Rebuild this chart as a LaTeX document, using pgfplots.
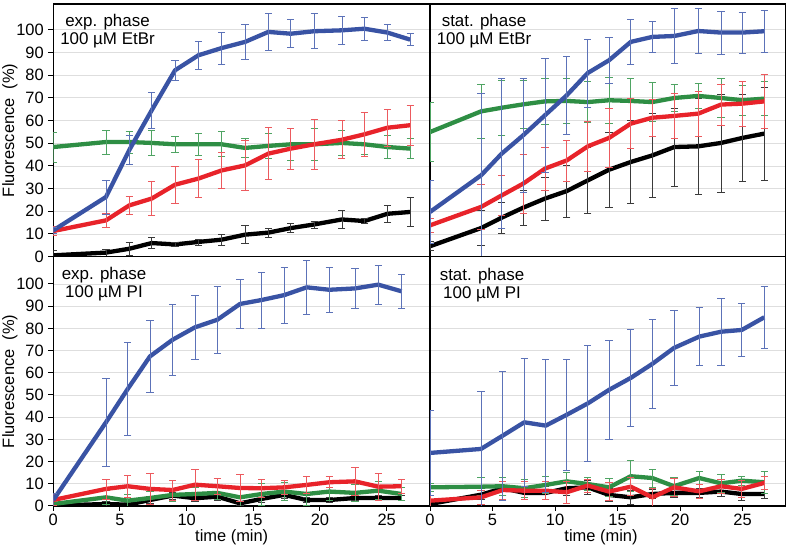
\documentclass[border=0pt]{standalone}
\usepackage{fontspec}
\setmainfont{Liberation Sans}
\usepackage{pgfplots}
\usepackage{pgfplotstable}
\pgfplotsset{compat=1.18}

\definecolor{cblue}{HTML}{3953A4}
\definecolor{cred}{HTML}{E8232A}
\definecolor{cgreen}{HTML}{2E8E44}
\definecolor{eblue}{HTML}{5C72B8}
\definecolor{ered}{HTML}{EC5A5E}
\definecolor{egreen}{HTML}{4FA463}
\definecolor{eblack}{HTML}{3A3A3A}

% t, blue, err, red, err, green, err, black, err
\pgfplotstableread{
t     b     be   r     re   g     ge   k     ke
0     11.6  1.5  11.3  2.0  48.3  6.6  0.6   2.0
3.95  26.3  7.5  16.0  3.0  50.5  5.3  1.8   1.5
5.70  47.0  6.5  22.6  4.0  50.5  4.8  3.5   3.0
7.38  64.5  8.0  25.6  7.5  50.1  5.6  6.0   2.5
9.13  82.1  4.4  31.7  8.0  49.5  3.7  5.4   1.0
10.88 88.7  6.0  34.4  8.4  49.5  5.0  6.5   1.3
12.63 91.9  7.0  38.0  8.0  49.5  5.5  7.5   2.5
14.38 94.6  7.8  40.2  11.0 47.9  4.0  9.7   4.0
16.13 99.0  8.3  45.4  11.4 48.8  5.5  10.6  2.0
17.81 98.2  6.2  47.6  9.0  49.5  7.0  12.6  2.0
19.56 99.3  7.7  49.5  11.0 49.5  7.0  14.2  1.5
21.64 99.7  6.0  51.5  8.4  50.1  5.6  16.4  4.0
23.33 100.4 4.9  53.9  9.5  49.5  4.5  15.7  1.0
25.06 98.7  3.5  56.8  8.3  48.3  5.0  18.9  3.7
26.76 95.6  2.7  57.9  8.7  47.6  4.4  19.7  6.4
}\TL

\pgfplotstableread{
t     b     be   r     re   g     ge   k     ke
0     19.7  14   13.8  3.0  54.9  13   4.6   2.0
4.08  35.8  36   21.9  10   64.0  12   12.6  7.7
5.74  45.4  33   27.0  9.0  65.6  12   17.2  6.8
7.46  53.5  25   32.2  13   67.1  10.5 21.6  7.8
9.20  62.3  25   38.8  9.5  68.4  10   25.6  9.4
10.94 71.1  17   42.4  9.0  68.6  10   28.9  11.4
12.62 80.9  15   48.6  11   68.1  9.0  33.6  14.7
14.32 86.5  10   52.3  13   68.9  10   38.3  16.4
16.06 94.6  10   58.6  11   68.6  10   41.7  18.4
17.78 96.8  7.0  61.2  8.0  68.1  8.5  44.6  18.4
19.54 97.2  12   62.0  10   69.9  6.0  48.3  17.2
21.46 99.4  10   63.0  10   70.8  5.5  48.6  21
23.28 98.7  9.5  67.0  9.0  69.9  8.5  50.1  21.6
24.98 98.7  9.0  67.4  10   68.9  6.5  52.3  19
26.74 99.3  9.3  68.4  12   69.6  7.5  54.2  20.5
}\TR

\pgfplotstableread{
t     b     be   r     re   g     ge   k     ke
0     2.7   3.0  2.7   2.5  0.9   2.0  0.2   1.5
3.95  37.7  20   7.7   4.5  3.9   3.0  0.9   1.0
5.58  52.7  21   8.9   5.0  2.4   3.0  0.6   1.0
7.25  67.4  16   7.7   7.0  3.6   3.0  2.7   1.5
8.95  74.9  16   7.2   4.5  5.0   3.0  4.7   1.5
10.63 80.5  14.5 9.6   7.0  5.4   3.0  3.5   1.5
12.30 83.9  15   8.9   3.5  5.9   3.0  4.2   1.5
14.00 91.0  11   8.1   6.0  3.9   4.0  1.2   1.0
15.63 92.8  12.6 8.0   4.0  5.4   5.0  3.2   1.5
17.32 95.0  12.6 8.4   3.3  6.5   4.0  5.0   1.5
19.00 98.5  12.3 9.5   4.0  5.4   5.0  2.7   1.0
20.70 97.4  10   10.7  2.5  6.5   4.0  2.7   1.0
22.62 98.0  9.0  11.1  6.4  5.9   4.0  3.6   1.0
24.37 99.7  8.7  8.7   6.0  6.9   4.0  3.6   1.0
26.12 96.7  7.7  8.9   3.0  5.4   3.0  3.6   1.0
}\BL

\pgfplotstableread{
t     b     be   r     re   g     ge   k     ke
0     23.9  19   2.4   2.5  8.4   2.0  0.9   1.5
4.08  25.7  26   3.9   3.0  8.7   4.0  5.1   2.0
5.82  31.7  29   7.2   4.0  8.9   4.0  8.0   3.0
7.54  37.7  29   6.9   4.0  8.0   4.0  5.9   3.0
9.26  36.2  30   6.9   4.0  9.5   4.0  5.9   3.0
10.94 41.1  25   6.2   5.0  11.1  4.0  8.0   3.0
12.62 46.2  26   9.2   3.0  9.9   3.0  8.4   3.0
14.32 52.3  22.5 6.5   4.0  8.4   4.0  5.0   3.0
16.06 57.7  22   8.7   4.0  13.4  7.0  3.9   3.0
17.78 64.0  20   3.9   4.0  12.6  4.0  5.4   2.0
19.52 71.2  17   8.4   4.0  8.9   4.0  5.9   2.0
21.54 76.3  13   6.6   3.0  12.6  3.0  5.9   2.0
23.28 78.5  15   8.9   3.0  10.2  4.0  6.5   2.0
24.94 79.3  12   7.7   4.0  11.4  2.0  5.4   3.0
26.74 85.0  14   10.4  3.0  10.7  5.0  5.4   2.0
}\BR

\pgfplotsset{
  panel/.style={
    scale only axis, anchor=south west,
    xmin=0, ymin=0,
    axis line style={line width=1.3bp},
    ytick={0,10,...,100},
    ymajorgrids, grid style={line width=0.6bp, black!13},
    tick align=outside, major tick length=5bp,
    tick style={line width=1bp, black},
    tick label style={font=\fontsize{16.5}{17}\selectfont},
    yticklabel style={xshift=-1bp},
    /pgf/number format/assume math mode=true,
    label style={font=\fontsize{16.5}{17}\selectfont},
  },
  leftp/.style={xmax=28.25, width=376.7bp, ytick pos=left,
    ylabel={Fluorescence~~(\%)},
    ylabel style={at={(axis description cs:-0.1150,0.5)}, anchor=center}},
  rightp/.style={xmax=28.44, width=355.5bp, yticklabels={}, ytick style={draw=none}},
  topp/.style={ymax=111.3, height=252.7bp, xtick=\empty},
  botp/.style={ymax=112.3, height=249.3bp, xtick={0,5,...,25}, xtick pos=bottom,
    xlabel={time (min)}},
  ser/.style n args={2}{draw=#1, line width=4.3bp, line join=round, no markers,
    error bars/.cd, y dir=both, y explicit,
    error bar style={line width=0.7bp, #2},
    error mark options={rotate=90, mark size=3.6bp, line width=0.7bp, #2}},
}

\newcommand{\fourseries}[1]{%
  \addplot[ser={black}{eblack}] table[x=t, y=k, y error=ke]{#1};
  \addplot[ser={cgreen}{egreen}] table[x=t, y=g, y error=ge]{#1};
  \addplot[ser={cred}{ered}] table[x=t, y=r, y error=re]{#1};
  \addplot[ser={cblue}{eblue}] table[x=t, y=b, y error=be]{#1};
}

\begin{document}
\begin{tikzpicture}[x=1bp,y=1bp]
\useasboundingbox (0,0) rectangle (790,549);

\begin{axis}[panel, leftp, topp, at={(53.3bp,292.3bp)}]
\fourseries{\TL}
\end{axis}

\begin{axis}[panel, rightp, topp, at={(430bp,292.3bp)}]
\fourseries{\TR}
\end{axis}

\begin{axis}[panel, leftp, botp, at={(53.3bp,43bp)},
  xlabel style={at={(axis description cs:0.4736,-0.125)}, anchor=center}]
\fourseries{\BL}
\end{axis}

\begin{axis}[panel, rightp, botp, at={(430bp,43bp)},
  xlabel style={at={(axis description cs:0.481,-0.125)}, anchor=center}]
\fourseries{\BR}
\end{axis}

\begin{scope}[every node/.style={align=center, font=\fontsize{17}{17.5}\selectfont}]
\node at (107.5,518) {exp. phase\\100 µM EtBr};
\node at (484,518) {stat. phase\\100 µM EtBr};
\node at (104,265) {exp. phase\\100 µM PI};
\node at (482,264) {stat. phase\\100 µM PI};
\end{scope}
\end{tikzpicture}
\end{document}
